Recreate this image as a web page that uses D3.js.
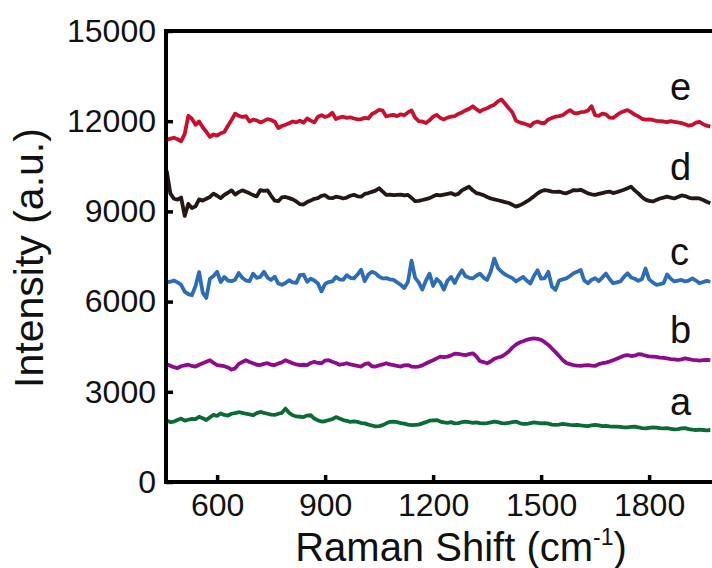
<!DOCTYPE html>
<html>
<head>
<meta charset="utf-8">
<script src="https://d3js.org/d3.v7.min.js"></script>
<style>
  body { margin: 0; background: #fff; }
  svg text { font-family: "Liberation Sans", Arial, sans-serif; fill: #111; }
</style>
</head>
<body>
<svg id="chart" width="712" height="568"></svg>
<script>
// Raman shift grid (cm-1), one point every 10
var shift = d3.range(460, 1971, 10)

// intensity of each spectrum
var specE = [11380,11420,11450,11400,11330,11580,12180,12080,11880,11990,
  11800,11650,11480,11560,11520,11600,11640,11850,12040,12250,
  12180,12140,12170,11990,12050,12030,11960,12010,12070,12040,
  11980,11770,11840,11880,11930,11990,11960,12020,11950,12090,
  12020,11960,12150,12200,12140,12180,12280,12070,12120,12150,
  12110,12130,12090,12060,12070,12110,12090,12240,12300,12380,
  12350,12160,12190,12210,12170,12230,12200,12290,12360,12120,
  12000,11990,11940,12030,12150,12210,12110,12060,12120,12150,
  12170,12240,12290,12360,12410,12500,12400,12320,12390,12430,
  12500,12550,12660,12720,12580,12430,12300,12020,11960,11930,
  11890,11840,11950,11990,11940,11940,12060,12110,12150,12170,
  12200,12290,12370,12280,12260,12300,12310,12350,12500,12200,
  12180,12250,12230,12120,12110,12200,12280,12330,12370,12300,
  12220,12160,12080,12050,12060,12040,12010,12000,11990,11970,
  12000,11980,11960,11940,11900,11850,11880,11950,11980,11900,
  11850,11820]

var specD = [10350,9600,9420,9390,9460,8850,9250,9110,9170,9400,
  9360,9420,9480,9590,9520,9440,9550,9620,9700,9560,
  9640,9700,9650,9600,9540,9500,9710,9680,9700,9520,
  9360,9340,9470,9480,9440,9400,9330,9240,9230,9310,
  9360,9420,9440,9520,9540,9450,9440,9490,9470,9430,
  9460,9520,9550,9500,9490,9580,9610,9650,9690,9770,
  9660,9550,9560,9540,9550,9560,9530,9550,9450,9340,
  9350,9380,9410,9440,9500,9550,9530,9560,9580,9610,
  9550,9580,9700,9760,9820,9700,9610,9580,9540,9480,
  9430,9400,9370,9340,9310,9280,9220,9160,9200,9260,
  9330,9410,9500,9600,9670,9710,9690,9660,9650,9660,
  9620,9600,9650,9710,9700,9720,9660,9600,9570,9550,
  9580,9610,9640,9660,9610,9640,9680,9720,9770,9820,
  9700,9600,9480,9390,9350,9330,9380,9430,9460,9490,
  9460,9430,9480,9530,9510,9460,9430,9440,9430,9380,
  9320,9270]

var specC = [6650,6660,6700,6640,6560,6330,6250,6210,6520,6980,
  6300,6120,6760,6850,6990,6650,6820,6700,6680,6730,
  6950,6790,6700,6680,6930,6790,6820,6990,6800,6720,
  6830,6600,6560,6620,6710,6640,6620,6880,6900,6660,
  6760,6700,6600,6340,6590,6650,6670,6820,6740,6720,
  6880,6790,6770,6900,7060,6680,6900,6990,6940,6830,
  6770,6780,6740,6720,6640,6560,6450,6650,7360,6790,
  6640,6400,6700,6930,6520,6750,6640,6400,6700,6820,
  6620,6860,7040,6840,6790,6770,6860,6930,6800,6720,
  7000,7430,7120,6990,6900,6840,6780,6670,6750,6820,
  6700,6600,6850,7040,6760,6780,6990,6500,6390,6700,
  6740,6770,6850,6940,6990,7050,6700,6610,6720,6780,
  6680,6800,6930,6750,6610,6640,6670,6820,6940,6800,
  6760,6690,6750,7100,6740,6640,6560,6580,6610,6900,
  6760,6670,6700,6720,6670,6700,6770,6700,6610,6650,
  6690,6660]

var specB = [3920,3870,3820,3790,3850,3880,3900,3860,3840,3900,
  3950,4000,4050,3960,3890,3870,3850,3810,3740,3780,
  3930,3990,4050,3990,3950,3900,3890,3930,3950,3900,
  3890,3940,3980,4050,4000,3950,3910,3890,3900,3890,
  3960,4000,3960,3950,4040,4050,4000,3960,3900,3920,
  3950,3910,3890,3860,3840,3920,3950,3850,3840,3880,
  3910,3950,3910,3890,3860,3840,3880,3890,3840,3830,
  3840,3880,3940,4000,4050,4110,4170,4150,4170,4210,
  4270,4260,4240,4220,4250,4280,4180,4020,3990,3950,
  4010,4100,4140,4170,4250,4340,4470,4570,4640,4680,
  4730,4760,4780,4760,4730,4650,4560,4440,4320,4190,
  4060,3960,3920,3890,3870,3860,3880,3890,3870,3860,
  3920,3950,3970,4010,4050,4100,4150,4200,4220,4190,
  4200,4250,4240,4200,4180,4170,4160,4140,4130,4110,
  4090,4080,4060,4080,4110,4090,4060,4050,4040,4050,
  4060,4050]

var specA = [2050,1990,2010,2060,2110,2040,2070,2100,2090,2170,
  2120,2060,2150,2230,2200,2280,2230,2210,2270,2290,
  2320,2300,2270,2250,2220,2290,2330,2300,2270,2240,
  2230,2270,2300,2440,2300,2220,2180,2170,2160,2210,
  2220,2110,2050,2010,2020,2060,2090,2160,2110,2060,
  2030,2000,2020,2000,1960,1950,1910,1880,1850,1860,
  1890,1950,2000,2010,1990,1960,1940,1910,1890,1900,
  1910,1950,1990,2040,2050,2060,2010,1980,1970,1990,
  1950,1960,1990,2010,1990,1970,1980,1960,1950,1960,
  1980,2010,1990,1960,1950,1970,1990,2010,1960,1930,
  1930,1960,1980,1970,1950,1960,1940,1910,1900,1910,
  1930,1920,1900,1890,1900,1880,1870,1860,1880,1900,
  1880,1860,1870,1850,1840,1840,1830,1820,1820,1830,
  1840,1820,1790,1780,1800,1820,1810,1790,1780,1790,
  1770,1750,1760,1780,1790,1760,1740,1730,1740,1730,
  1720,1730]

var seriesNames = ['a', 'b', 'c', 'd', 'e']
var seriesColors = ['#0b6b37', '#8e0b8c', '#2d6cb6', '#231815', '#c8102e']
var xTicks = [600, 900, 1200, 1500, 1800]
var yTicks = [0, 3000, 6000, 9000, 12000, 15000]

var svg = d3.select('#chart')
var padL = 166, padT = 31, padB = 482

var x = d3.scaleLinear().domain([458, 2000]).range([padL, padL + 1542 * 0.36])
var y = d3.scaleLinear().domain([0, 15000]).range([padB, padT])

var allSpec = [specA, specB, specC, specD, specE]
var line = d3.line()
  .x(function(d, i){ return x(shift[i]) })
  .y(function(d){ return y(d) })

// spectra
svg.selectAll('.spec')
  .data(allSpec)
  .enter()
  .append('path')
  .attr('class', 'spec')
  .attr('d', line)
  .attr('fill', 'none')
  .attr('stroke', function(d, i){ return seriesColors[i] })
  .attr('stroke-width', 3.8)
  .attr('stroke-linejoin', 'round')

// axes, ticks point inwards
var xAxis = d3.axisBottom(x).tickValues(xTicks).tickFormat(d3.format('d'))
  .tickSizeInner(-7).tickSizeOuter(0).tickPadding(10)
var yAxis = d3.axisLeft(y).tickValues(yTicks).tickFormat(d3.format('d'))
  .tickSizeInner(-7).tickSizeOuter(0).tickPadding(10)

var gx = svg.append('g').attr('transform', 'translate(0,' + padB + ')').call(xAxis)
var gy = svg.append('g').attr('transform', 'translate(' + padL + ',0)').call(yAxis)

gx.select('.domain').remove()
gy.select('.domain').remove()
svg.selectAll('.tick line').attr('stroke', '#000').attr('stroke-width', 3.5)
svg.selectAll('.tick text')
  .attr('font-size', 32)
  .attr('font-family', '"Liberation Sans", Arial, sans-serif')
  .attr('fill', '#111')
gx.selectAll('.tick text').attr('dy', '0.75em')

// frame: left, bottom, top
var padR = x(2000)
svg.append('path')
  .attr('d', 'M' + padR + ',' + padT + 'H' + padL + 'V' + padB + 'H' + padR)
  .attr('fill', 'none')
  .attr('stroke', '#000')
  .attr('stroke-width', 4)
  .attr('stroke-linecap', 'square')

// curve labels
var labelY = [415, 343, 265, 180, 100]
svg.selectAll('.lab')
  .data(seriesNames)
  .enter()
  .append('text')
  .attr('class', 'lab')
  .attr('x', 670)
  .attr('y', function(d, i){ return labelY[i] })
  .attr('font-size', 38)
  .text(function(d){ return d })

// axis titles
var xt = svg.append('text')
  .attr('x', 461)
  .attr('y', 561)
  .attr('text-anchor', 'middle')
  .attr('font-size', 40)
xt.append('tspan').text('Raman Shift (cm')
xt.append('tspan').attr('font-size', 23).attr('dy', -16).text('-1')
xt.append('tspan').attr('dy', 16).text(')')

svg.append('text')
  .attr('transform', 'translate(43,258) rotate(-90)')
  .attr('text-anchor', 'middle')
  .attr('font-size', 41)
  .text('Intensity (a.u.)')
</script>
</body>
</html>
